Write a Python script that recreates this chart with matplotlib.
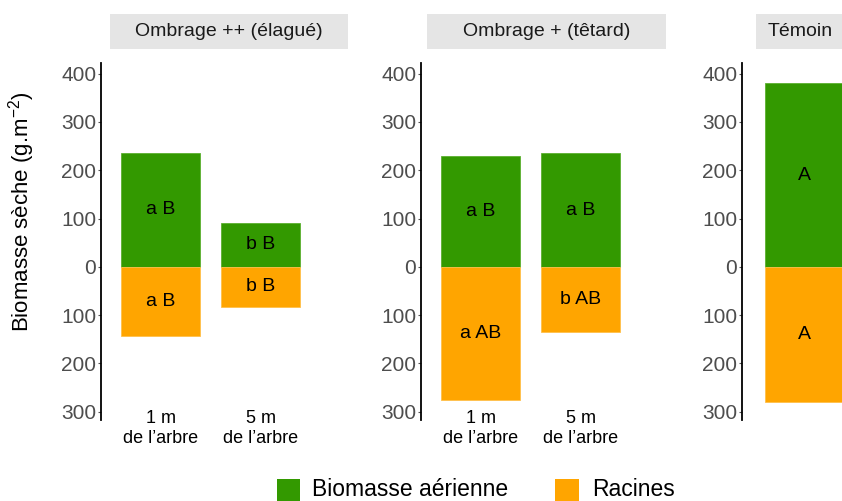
import matplotlib.pyplot as plt
from matplotlib.patches import Rectangle
from matplotlib.ticker import FuncFormatter

plt.rcParams['font.family'] = ['Liberation Sans', 'DejaVu Sans']
plt.rcParams['mathtext.default'] = 'regular'

# biomasse par traitement et distance à l'arbre (g/m2)
traitements = ["Ombrage ++ (élagué)", "Ombrage + (têtard)", "Témoin"]
traitement = ["Ombrage ++ (élagué)", "Ombrage ++ (élagué)",
              "Ombrage + (têtard)", "Ombrage + (têtard)", "Témoin"]
distance = ["1 m\nde l’arbre", "5 m\nde l’arbre",
            "1 m\nde l’arbre", "5 m\nde l’arbre", ""]
aerienne = [236, 91, 230, 235, 380]
racines = [143, 83, 275, 135, 280]
lettres_aer = ["a B", "b B", "a B", "a B", "A"]
lettres_rac = ["a B", "b B", "a AB", "b AB", "A"]

VERT = '#339900'
ORANGE = '#FFA500'
W, H = 842, 501


def fx(px):
    return px / W


def fy(py):
    return 1 - py / H


fig = plt.figure(figsize=(W / 100, H / 100), dpi=100)

# position des panneaux en pixels : axe y, décalage de la 1re barre, bandeau
axe_x = [101, 421, 742]
decal = [59.5, 59.5, 62.5]
bandeau = [(110, 348), (427, 666), (756, 845)]
haut, bas = 63, 420

for i, trt in enumerate(traitements):
    idx = [k for k, t in enumerate(traitement) if t == trt]
    larg = 250
    ax = fig.add_axes([fx(axe_x[i]), fy(bas), larg / W, (bas - haut) / H])
    x = list(range(1, len(idx) + 1))
    aer = [aerienne[k] for k in idx]
    rac = [racines[k] for k in idx]
    ax.bar(x, aer, width=0.795, color=VERT, edgecolor='#5cb030', linewidth=0.6)
    ax.bar(x, [-r for r in rac], width=0.795, color=ORANGE,
           edgecolor='#ffc04a', linewidth=0.6)
    for xi, k in zip(x, idx):
        ax.text(xi, aerienne[k] / 2, lettres_aer[k], ha='center', va='center',
                fontsize=14, color='black')
        ax.text(xi, -racines[k] / 2, lettres_rac[k], ha='center', va='center',
                fontsize=14, color='black')

    x0 = 1 - decal[i] / 100
    ax.set_xlim(x0, x0 + larg / 100)
    ax.set_ylim(-317, 422)
    ax.set_yticks(range(-300, 401, 100))
    ax.yaxis.set_major_formatter(FuncFormatter(lambda v, p: f"{abs(int(v))}"))
    ax.set_xticks(x)
    ax.set_xticklabels([distance[k] for k in idx], fontsize=13,
                       linespacing=1.2)
    ax.tick_params(axis='x', length=0, pad=-7, colors='black')
    ax.tick_params(axis='y', length=2.2, width=0.8, color='#555555',
                   labelsize=15, labelcolor='#4D4D4D', pad=1.2)
    for s in ['top', 'right', 'bottom']:
        ax.spines[s].set_visible(False)
    ax.spines['left'].set_linewidth(1.3)
    ax.spines['left'].set_color('black')
    ax.patch.set_visible(False)

    # bandeau de titre du panneau
    g, d = bandeau[i]
    fig.add_artist(Rectangle((fx(g), fy(49)), (d - g) / W, 35 / H,
                             transform=fig.transFigure, facecolor='#E5E5E5',
                             edgecolor='none'))
    fig.text(fx((g + d) / 2), fy(31.5), trt, ha='center', va='center',
             fontsize=14, color='#1A1A1A')

fig.text(fx(22), fy(212), "Biomasse sèche (g.m$^{-2}$)", rotation=90,
         ha='center', va='center', fontsize=16, color='black')

# légende
for (x0, x1, tx, lab, col) in [(277, 300, 312, "Biomasse aérienne", VERT),
                               (555, 579, 592, "Racines", ORANGE)]:
    fig.add_artist(Rectangle((fx(x0), fy(502)), (x1 - x0) / W, 23.5 / H,
                             transform=fig.transFigure, facecolor=col,
                             edgecolor='none'))
    fig.text(fx(tx), fy(490), lab, ha='left', va='center', fontsize=16.5,
             color='black')

fig.savefig("out.png", dpi=100)
